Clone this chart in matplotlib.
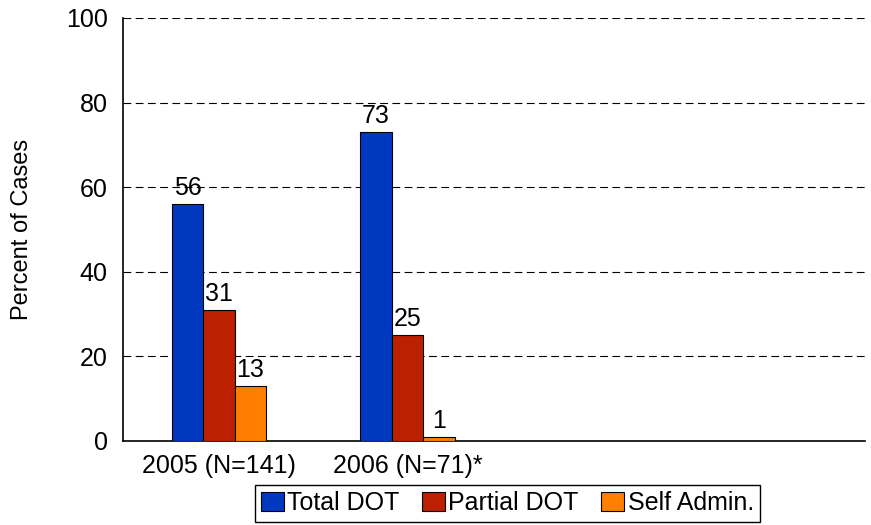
import numpy as np
import matplotlib.pyplot as plt

plt.rcParams['font.family'] = ['Liberation Sans', 'DejaVu Sans']

groups = ['2005 (N=141)', '2006 (N=71)*']
series = ['Total DOT', 'Partial DOT', 'Self Admin.']
total_dot = [56, 73]
partial_dot = [31, 25]
self_admin = [13, 1]
colors = ['#0039C0', '#BB2000', '#FF8000']

fig = plt.figure(figsize=(8.71, 5.25), dpi=100)
ax = fig.add_axes([123/871, 1-441/525, 742/871, 423/525])

x = np.arange(len(groups))
w = 0.167
for i, (name, vals) in enumerate(zip(series, [total_dot, partial_dot, self_admin])):
    pos = x + (i-1)*w
    bars = ax.bar(pos, vals, w, color=colors[i], edgecolor='black', linewidth=0.8, label=name, zorder=3)
    for b, v in zip(bars, vals):
        ax.annotate(str(v), (b.get_x()+b.get_width()/2, v), xytext=(0, 3), textcoords='offset points',
                    ha='center', va='bottom', fontsize=18)

ax.set_xlim(-0.509, 3.427)
ax.set_ylim(0, 100)
ax.set_yticks([0, 20, 40, 60, 80, 100])
ax.set_xticks(x)
ax.set_xticklabels(groups)
ax.tick_params(axis='both', length=0, labelsize=18)
ax.tick_params(axis='y', pad=11)
ax.tick_params(axis='x', pad=9)
for yv in [20, 40, 60, 80, 100]:
    ax.axhline(yv, color='black', lw=0.8, linestyle=(0, (7, 4)), zorder=1)
for s in ['top', 'right']:
    ax.spines[s].set_visible(False)
for s in ['left', 'bottom']:
    ax.spines[s].set_linewidth(1.2)
ax.set_ylabel('Percent of Cases', fontsize=17, labelpad=24)

fig.legend(loc='upper center', bbox_to_anchor=(507.5/871, 1-485/525), ncol=3, fontsize=18,
           frameon=True, fancybox=False, edgecolor='black', framealpha=1,
           handlelength=0.9, handleheight=0.75, handletextpad=0.15, columnspacing=0.9,
           borderpad=0.25, borderaxespad=0)

fig.savefig('out.png', dpi=100)
